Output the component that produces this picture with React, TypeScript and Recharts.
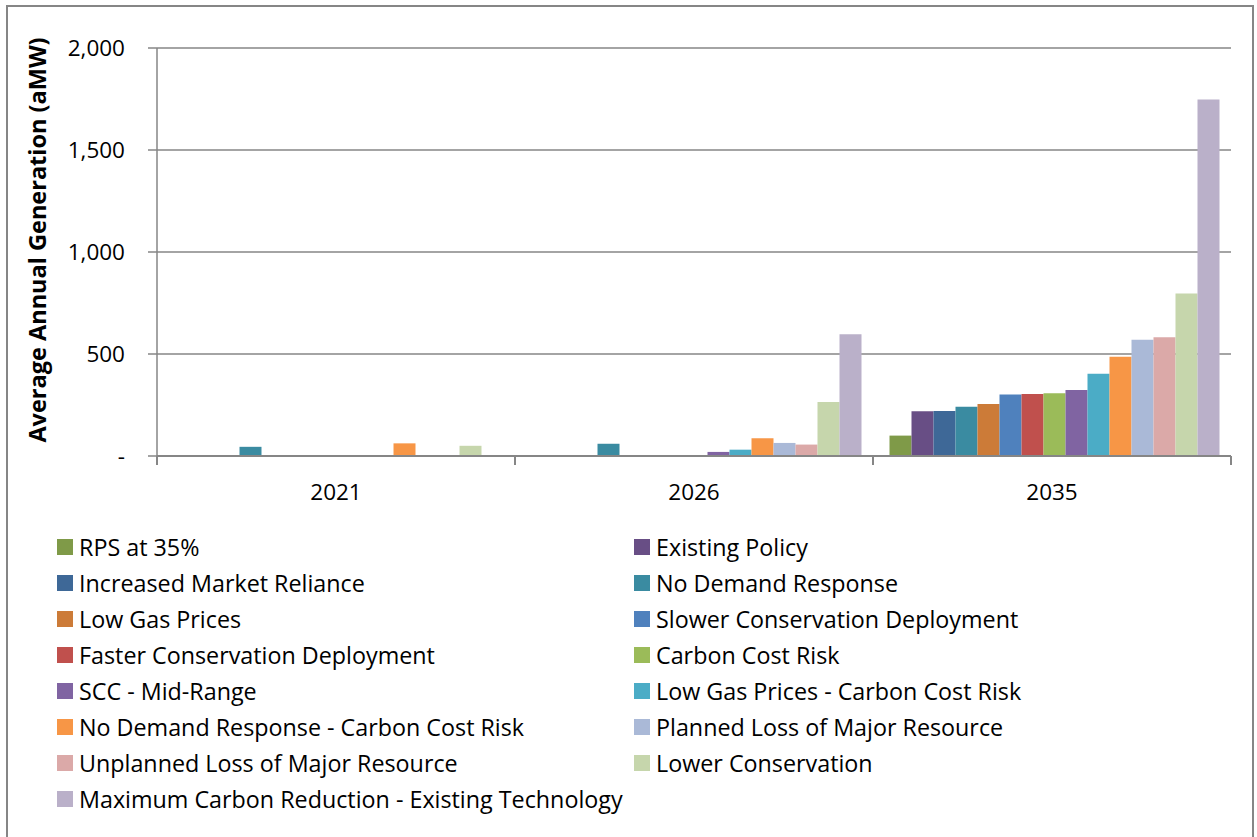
import { BarChart, Bar, XAxis, YAxis, CartesianGrid, Legend, Label } from "recharts";

const categories = ["2021", "2026", "2035"];

const seriesNames = [
  "RPS at 35%",
  "Existing Policy",
  "Increased Market Reliance",
  "No Demand Response",
  "Low Gas Prices",
  "Slower Conservation Deployment",
  "Faster Conservation Deployment",
  "Carbon Cost Risk",
  "SCC - Mid-Range",
  "Low Gas Prices - Carbon Cost Risk",
  "No Demand Response - Carbon Cost Risk",
  "Planned Loss of Major Resource",
  "Unplanned Loss of Major Resource",
  "Lower Conservation",
  "Maximum Carbon Reduction - Existing Technology",
];

const seriesColors = [
  "#7f9a48",
  "#684e85",
  "#3e6897",
  "#3a8ba1",
  "#cc7b38",
  "#4f81bd",
  "#c0504d",
  "#9bbb59",
  "#8064a2",
  "#4bacc6",
  "#f79646",
  "#aab9d7",
  "#dba9a8",
  "#c6d6ac",
  "#bab0c9",
];

// values per series: [2021, 2026, 2035]
const rps35 = [0, 0, 100];
const existingPolicy = [0, 5, 219];
const increasedMarket = [0, 2, 220];
const noDemandResponse = [45, 60, 242];
const lowGasPrices = [0, 3, 255];
const slowerConservation = [0, 4, 302];
const fasterConservation = [0, 5, 304];
const carbonCostRisk = [0, 3, 307];
const sccMidRange = [0, 20, 323];
const lowGasCarbon = [0, 31, 403];
const noDrCarbon = [62, 87, 487];
const plannedLoss = [2, 64, 570];
const unplannedLoss = [2, 56, 582];
const lowerConservation = [50, 265, 797];
const maxCarbonReduction = [0, 597, 1748];

const seriesValues = [
  rps35,
  existingPolicy,
  increasedMarket,
  noDemandResponse,
  lowGasPrices,
  slowerConservation,
  fasterConservation,
  carbonCostRisk,
  sccMidRange,
  lowGasCarbon,
  noDrCarbon,
  plannedLoss,
  unplannedLoss,
  lowerConservation,
  maxCarbonReduction,
];

const yTicks = [0, 500, 1000, 1500, 2000];

const W = 1257;
const H = 837;
const margin = { top: 48, right: 26, left: 20, bottom: 351 };
const yAxisWidth = 137;
const FONT = "'Open Sans', 'Noto Sans', sans-serif";
const AXIS = "#868686";

const data = categories.map((c, i) => {
  const row: Record<string, string | number> = { year: c };
  seriesNames.forEach((n, s) => {
    row["s" + s] = seriesValues[s][i];
  });
  return row;
});

const bandWidth = (W - margin.left - yAxisWidth - margin.right) / categories.length;

function YearTick(props: any) {
  const { x, y, payload } = props;
  return (
    <g>
      <line x1={x - bandWidth / 2} x2={x - bandWidth / 2} y1={y} y2={y + 9} stroke={AXIS} strokeWidth={2} />
      <line x1={x + bandWidth / 2} x2={x + bandWidth / 2} y1={y} y2={y + 9} stroke={AXIS} strokeWidth={2} />
      <text x={x} y={y + 35} textAnchor="middle" dominantBaseline="central" fontSize={22.5} fontFamily={FONT} fill="#000">
        {payload.value}
      </text>
    </g>
  );
}

function LegendGrid() {
  return (
    <div style={{ display: "grid", gridTemplateColumns: "577px 577px", fontFamily: FONT, fontSize: 23.3, color: "#000" }}>
      {seriesNames.map((n, i) => (
        <div key={n} style={{ height: 36, display: "flex", alignItems: "center", whiteSpace: "nowrap" }}>
          <span style={{ width: 16, height: 16, background: seriesColors[i], marginRight: 6, display: "inline-block", flex: "none" }} />
          <span>{n}</span>
        </div>
      ))}
    </div>
  );
}

export default function App() {
  return (
    <div style={{ position: "fixed", left: 0, top: 0, width: W, height: H, background: "#fff" }}>
      <div
        style={{
          position: "absolute",
          left: 6,
          top: 5,
          width: 1248,
          height: 850,
          border: "2px solid " + AXIS,
          boxSizing: "border-box",
        }}
      />
      <BarChart
        width={W}
        height={H}
        data={data}
        margin={margin}
        barGap={0}
        barCategoryGap={16.5}
        style={{ position: "absolute", left: 0, top: 0 }}
      >
        <CartesianGrid vertical={false} stroke={AXIS} strokeWidth={1.5} />
        <XAxis
          dataKey="year"
          height={30}
          tickSize={0}
          tickMargin={0}
          tickLine={false}
          axisLine={{ stroke: AXIS, strokeWidth: 2 }}
          tick={<YearTick />}
          interval={0}
        />
        <YAxis
          width={yAxisWidth}
          domain={[0, 2000]}
          ticks={yTicks}
          interval={0}
          tickSize={9}
          tickMargin={23}
          tickLine={{ stroke: AXIS, strokeWidth: 1.5 }}
          axisLine={{ stroke: AXIS, strokeWidth: 1.5 }}
          tick={{ fill: "#000", fontSize: 22.5, fontFamily: FONT }}
          tickFormatter={(v: number) => (v === 0 ? "-" : v.toLocaleString("en-US"))}
        >
          <Label
            content={({ viewBox }: any) => {
              const cx = viewBox.x + 17;
              const cy = viewBox.y + viewBox.height / 2 - 12;
              return (
                <text
                  x={cx}
                  y={cy}
                  transform={`rotate(-90 ${cx} ${cy})`}
                  textAnchor="middle"
                  dominantBaseline="central"
                  fontSize={23.5}
                  fontWeight="bold"
                  fontFamily={FONT}
                  fill="#000"
                >
                  Average Annual Generation (aMW)
                </text>
              );
            }}
          />
        </YAxis>
        <Legend
          layout="horizontal"
          verticalAlign="middle"
          align="center"
          content={() => <LegendGrid />}
          wrapperStyle={{ left: 57, top: 529, width: 1180, height: 290 }}
        />
        {seriesNames.map((n, i) => (
          <Bar key={n} dataKey={"s" + i} name={n} fill={seriesColors[i]} isAnimationActive={false} />
        ))}
      </BarChart>
    </div>
  );
}
